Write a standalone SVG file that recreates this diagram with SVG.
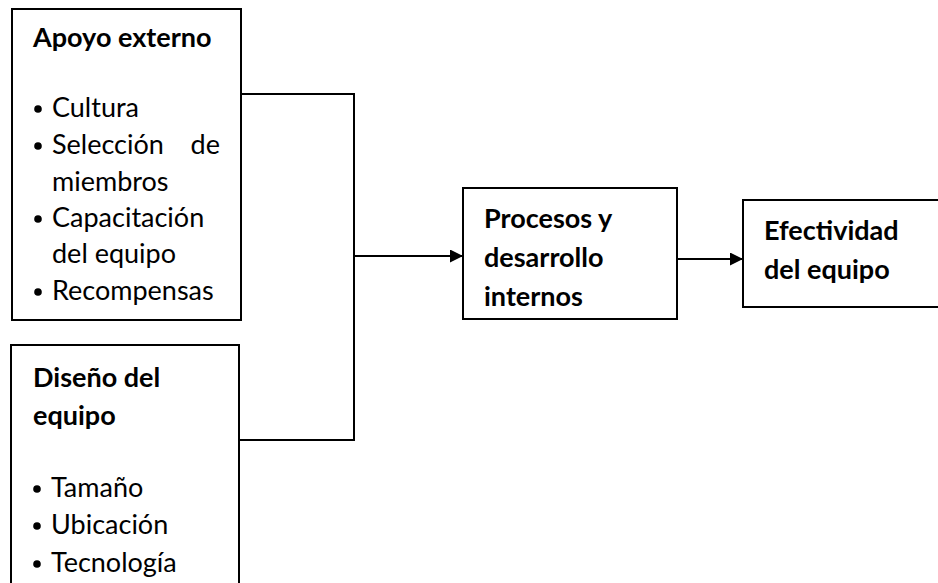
<svg xmlns="http://www.w3.org/2000/svg" width="938" height="583" viewBox="0 0 938 583">
  <style>
    .box { fill: #ffffff; stroke: #000000; stroke-width: 2; }
    .title { font-family: Lato, "Liberation Sans", sans-serif; font-weight: bold; font-size: 27px; fill: #000000; }
    .item { font-family: Lato, "Liberation Sans", sans-serif; font-size: 27px; fill: #000000; }
    .dot { fill: #000000; }
    .wire { fill: none; stroke: #000000; stroke-width: 2; }
  </style>
  <defs>
    <marker id="arrow" viewBox="0 0 10 10" refX="10" refY="5" markerWidth="7.5" markerHeight="6.5" markerUnits="strokeWidth" orient="auto">
      <path d="M0,0 L10,5 L0,10 Z" fill="#000000"/>
    </marker>
  </defs>

  <rect width="938" height="583" fill="#ffffff"/>

  <g id="connectors">
    <path class="wire" d="M231,94 H354 V440 H239"/>
    <line class="wire" x1="354" y1="256" x2="463" y2="256" marker-end="url(#arrow)"/>
    <line class="wire" x1="677" y1="259" x2="743" y2="259" marker-end="url(#arrow)"/>
  </g>

  <g id="apoyo-externo">
    <rect class="box" x="12" y="9" width="229" height="311"/>
    <text class="title" x="33" y="47">Apoyo externo</text>
    <circle class="dot" cx="38" cy="109" r="3.8"/>
    <text class="item" x="52" y="117">Cultura</text>
    <circle class="dot" cx="38" cy="146" r="3.8"/>
    <text class="item" x="52" y="154">Selección</text>
    <text class="item" x="220" y="154" text-anchor="end">de</text>
    <text class="item" x="52" y="191">miembros</text>
    <circle class="dot" cx="38" cy="219" r="3.8"/>
    <text class="item" x="52" y="227">Capacitación</text>
    <text class="item" x="52" y="263">del equipo</text>
    <circle class="dot" cx="38" cy="292" r="3.8"/>
    <text class="item" x="52" y="300">Recompensas</text>
  </g>

  <g id="diseno-equipo">
    <path class="box" d="M11,583 V345 H239 V583"/>
    <text class="title" x="33" y="387">Diseño del</text>
    <text class="title" x="33" y="425">equipo</text>
    <circle class="dot" cx="37" cy="489" r="3.8"/>
    <text class="item" x="51" y="497">Tamaño</text>
    <circle class="dot" cx="37" cy="526" r="3.8"/>
    <text class="item" x="51" y="534">Ubicación</text>
    <circle class="dot" cx="37" cy="564" r="3.8"/>
    <text class="item" x="51" y="572">Tecnología</text>
  </g>

  <g id="procesos">
    <rect class="box" x="463" y="188" width="214" height="131"/>
    <text class="title" x="484" y="228">Procesos y</text>
    <text class="title" x="484" y="267">desarrollo</text>
    <text class="title" x="484" y="306">internos</text>
  </g>

  <g id="efectividad">
    <rect class="box" x="743" y="200" width="200" height="107"/>
    <text class="title" x="764" y="240">Efectividad</text>
    <text class="title" x="764" y="279">del equipo</text>
  </g>
</svg>
